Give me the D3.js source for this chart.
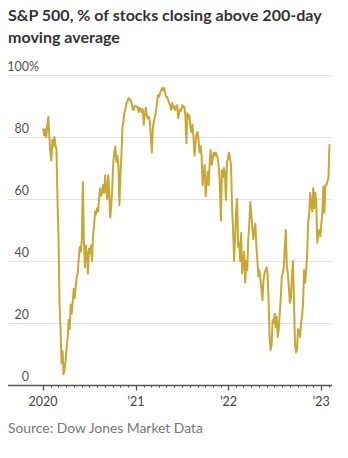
<!DOCTYPE html>
<html><head><meta charset="utf-8">
<script src="https://cdn.jsdelivr.net/npm/d3@7"></script>
<style>body{margin:0;background:#fff}svg{display:block}</style>
</head><body><svg id="c" width="348" height="458"></svg>
<script>
const titleLines = ["S&P 500, % of stocks closing above 200-day", "moving average"];
const sourceText = "Source: Dow Jones Market Data";
const yTicks = [0, 20, 40, 60, 80, 100];
const xTickDates = ["2020-01-01", "2021-01-01", "2022-01-01", "2023-01-01"];
const xTickLabels = ["2020", "\u201921", "\u201922", "\u201923"];
const xDomain = ["2019-08-16", "2023-02-13"];
const minorTickRange = ["2020-01-01", "2023-02-02"];
const series = [
["2020-01-02",82.5],["2020-01-06",80.5],["2020-01-10",82.5],["2020-01-14",80],["2020-01-18",84],["2020-01-22",86.5],["2020-01-26",80],["2020-01-30",75],
["2020-02-03",72.5],["2020-02-07",79],["2020-02-11",77],["2020-02-15",80],["2020-02-19",77.5],["2020-02-23",76],["2020-02-27",60],
["2020-03-02",48],["2020-03-06",26.5],["2020-03-10",18],["2020-03-14",7],["2020-03-18",11],["2020-03-22",3.5],["2020-03-26",5],["2020-03-30",8],
["2020-04-03",12],["2020-04-07",15],["2020-04-11",21],["2020-04-15",18],["2020-04-19",26],["2020-04-23",23],["2020-04-27",27],
["2020-05-01",31],["2020-05-05",28],["2020-05-09",32],["2020-05-13",35],["2020-05-17",36],["2020-05-21",41],["2020-05-25",44.5],["2020-05-29",43],
["2020-06-02",47],["2020-06-06",65.5],["2020-06-10",47],["2020-06-14",38],["2020-06-18",45],["2020-06-22",42],["2020-06-26",36],["2020-06-30",44],
["2020-07-04",42.5],["2020-07-08",45],["2020-07-12",40],["2020-07-16",48],["2020-07-20",51],["2020-07-24",56],["2020-07-28",55],
["2020-08-01",57],["2020-08-05",56],["2020-08-09",60],["2020-08-13",63.5],["2020-08-17",61],["2020-08-21",62],["2020-08-25",64.5],["2020-08-29",62],
["2020-09-02",67.7],["2020-09-06",63],["2020-09-10",60],["2020-09-14",67.7],["2020-09-18",62],["2020-09-22",54],["2020-09-26",58],["2020-09-30",63.5],
["2020-10-04",72],["2020-10-08",75],["2020-10-12",77],["2020-10-16",72],["2020-10-20",74],["2020-10-24",71],["2020-10-28",58],
["2020-11-01",68],["2020-11-05",74],["2020-11-09",83],["2020-11-13",85],["2020-11-17",88],["2020-11-21",89],["2020-11-25",91],["2020-11-29",91.5],
["2020-12-03",92.6],["2020-12-07",92],["2020-12-11",92],["2020-12-15",91],["2020-12-19",89],["2020-12-23",88.7],["2020-12-27",90],["2020-12-31",90],
["2021-01-04",89.7],["2021-01-08",89.7],["2021-01-12",88],["2021-01-16",89.4],["2021-01-20",89],["2021-01-24",88],["2021-01-28",89],
["2021-02-01",84],["2021-02-05",87],["2021-02-09",89.4],["2021-02-13",87],["2021-02-17",86],["2021-02-21",86.5],["2021-02-25",85],
["2021-03-01",80],["2021-03-05",75],["2021-03-09",83],["2021-03-13",85],["2021-03-17",86.5],["2021-03-21",88],["2021-03-25",91],["2021-03-29",93.5],
["2021-04-02",93],["2021-04-06",94],["2021-04-10",95],["2021-04-14",95.8],["2021-04-18",95],["2021-04-22",95.8],["2021-04-26",94.5],["2021-04-30",93],
["2021-05-04",93],["2021-05-08",92],["2021-05-12",91],["2021-05-16",90.3],["2021-05-20",88.7],["2021-05-24",91],["2021-05-28",89.4],
["2021-06-01",90],["2021-06-05",88.7],["2021-06-09",89.5],["2021-06-13",90.3],["2021-06-17",86],["2021-06-21",88],["2021-06-25",89],["2021-06-29",88.5],
["2021-07-03",90.3],["2021-07-07",89.7],["2021-07-11",89.7],["2021-07-15",87],["2021-07-19",78],["2021-07-23",87.7],["2021-07-27",86],["2021-07-31",87],
["2021-08-04",83],["2021-08-08",81.6],["2021-08-12",84],["2021-08-16",80],["2021-08-20",74],["2021-08-24",78],["2021-08-28",81],
["2021-09-01",81.6],["2021-09-05",79],["2021-09-09",75],["2021-09-13",77],["2021-09-17",74],["2021-09-21",64.5],["2021-09-25",68],["2021-09-29",71],
["2021-10-03",61],["2021-10-07",65],["2021-10-11",68.7],["2021-10-15",64.5],["2021-10-19",72],["2021-10-23",75.8],["2021-10-27",71],["2021-10-31",73],
["2021-11-04",75],["2021-11-08",74],["2021-11-12",75],["2021-11-16",74],["2021-11-20",73],["2021-11-24",70],["2021-11-28",64.5],
["2021-12-02",53],["2021-12-06",69.3],["2021-12-10",67],["2021-12-14",70],["2021-12-18",68],["2021-12-22",59.7],["2021-12-26",72],["2021-12-30",73],
["2022-01-03",75],["2022-01-07",73],["2022-01-11",71],["2022-01-15",58],["2022-01-19",50],["2022-01-23",40],["2022-01-27",47],["2022-01-31",56],
["2022-02-04",60],["2022-02-08",44.5],["2022-02-12",46],["2022-02-16",40],["2022-02-20",49],["2022-02-24",36],["2022-02-28",40],
["2022-03-04",43],["2022-03-08",33],["2022-03-12",40],["2022-03-16",37],["2022-03-20",47],["2022-03-24",52],["2022-03-28",59],
["2022-04-01",55],["2022-04-05",50.6],["2022-04-09",47],["2022-04-13",50],["2022-04-17",52],["2022-04-21",44.5],["2022-04-25",40],["2022-04-29",35],
["2022-05-03",37],["2022-05-07",34],["2022-05-11",31],["2022-05-15",27.4],["2022-05-19",34],["2022-05-23",36],["2022-05-27",37],["2022-05-31",38],
["2022-06-04",36],["2022-06-08",27.4],["2022-06-12",15.5],["2022-06-16",11.3],["2022-06-20",13],["2022-06-24",21],["2022-06-28",20],
["2022-07-02",23],["2022-07-06",18.7],["2022-07-10",22],["2022-07-14",15.5],["2022-07-18",18],["2022-07-22",23],["2022-07-26",28],["2022-07-30",35],
["2022-08-03",36],["2022-08-07",38],["2022-08-11",44.5],["2022-08-15",50],["2022-08-19",38],["2022-08-23",36],["2022-08-27",31.6],["2022-08-31",26.5],
["2022-09-04",28],["2022-09-08",35],["2022-09-12",40],["2022-09-16",28],["2022-09-20",13.5],["2022-09-24",10.5],["2022-09-28",11.3],
["2022-10-02",18],["2022-10-06",17.7],["2022-10-10",15.5],["2022-10-14",20],["2022-10-18",22],["2022-10-22",26.5],["2022-10-26",37],["2022-10-30",33],
["2022-11-03",37],["2022-11-07",42],["2022-11-11",52.6],["2022-11-15",55],["2022-11-19",62],["2022-11-23",58],["2022-11-27",56],
["2022-12-01",63.5],["2022-12-05",57],["2022-12-09",62],["2022-12-13",59],["2022-12-17",45.8],["2022-12-21",49],["2022-12-25",50],["2022-12-29",48],
["2023-01-02",52],["2023-01-06",56],["2023-01-10",64],["2023-01-14",55.5],["2023-01-18",64.5],["2023-01-22",64.5],["2023-01-26",65.5],["2023-01-30",67],
["2023-02-03",77.4]
];

const parse = d3.timeParse("%Y-%m-%d");
const data = series.map(d => ({date: parse(d[0]), value: d[1]}));

const svg = d3.select("#c");
const plotLeft = 8, plotRight = 332, plotTop = 75, plotBottom = 385;
const font = "Lato, 'Open Sans', sans-serif";

const x = d3.scaleTime().domain(xDomain.map(parse)).range([plotLeft, plotRight]);
const y = d3.scaleLinear().domain([0, 100]).range([plotBottom, plotTop]);

// Title
const t1 = svg.append("text").attr("x", 8).attr("y", 21)
  .attr("font-family", font).attr("font-weight", 700).attr("font-size", 16)
  .attr("fill", "#333").text(titleLines[0]);
const w = t1.node().getComputedTextLength();
const fs = 16 * 314 / w;
t1.attr("font-size", fs);
svg.append("text").attr("x", 8).attr("y", 43)
  .attr("font-family", font).attr("font-weight", 700).attr("font-size", fs)
  .attr("fill", "#333").text(titleLines[1]);

// Grid
svg.append("g").selectAll("line").data(yTicks.filter(d => d > 0)).join("line")
  .attr("x1", plotLeft).attr("x2", plotRight)
  .attr("y1", d => Math.round(y(d)) + 0.5).attr("y2", d => Math.round(y(d)) + 0.5)
  .attr("stroke", "#e2e2e2").attr("stroke-width", 1);

// Y labels
svg.append("g").selectAll("text").data(yTicks).join("text")
  .attr("x", 29).attr("y", d => y(d) - 4)
  .attr("text-anchor", "end")
  .attr("font-family", font).attr("font-size", 12.5).attr("fill", "#555")
  .text(d => d);
svg.append("text").attr("x", 29).attr("y", y(100) - 4)
  .attr("font-family", font).attr("font-size", 12.5).attr("fill", "#555").text("%");

// Line
const line = d3.line().x(d => x(d.date)).y(d => y(d.value)).curve(d3.curveLinear);
svg.append("path").datum(data)
  .attr("d", line).attr("fill", "none")
  .attr("stroke", "#c8a832").attr("stroke-width", 2)
  .attr("stroke-linejoin", "round").attr("stroke-linecap", "round");

// Axis
const minor = d3.timeMonth.range(parse(minorTickRange[0]), parse(minorTickRange[1]));
svg.append("g").selectAll("line").data(minor).join("line")
  .attr("x1", d => Math.round(x(d)) + 0.5).attr("x2", d => Math.round(x(d)) + 0.5)
  .attr("y1", plotBottom).attr("y2", plotBottom + 2.5)
  .attr("stroke", "#444").attr("stroke-width", 1);
svg.append("g").selectAll("line").data(xTickDates.map(parse)).join("line")
  .attr("x1", d => Math.round(x(d)) + 0.5).attr("x2", d => Math.round(x(d)) + 0.5)
  .attr("y1", plotBottom).attr("y2", plotBottom + 5.5)
  .attr("stroke", "#444").attr("stroke-width", 1.2);
svg.append("line").attr("x1", plotLeft).attr("x2", plotRight)
  .attr("y1", plotBottom + 0.5).attr("y2", plotBottom + 0.5)
  .attr("stroke", "#555").attr("stroke-width", 1.5);

svg.append("g").selectAll("text").data(xTickDates).join("text")
  .attr("x", d => x(parse(d))).attr("y", 406)
  .attr("text-anchor", "middle")
  .attr("font-family", font).attr("font-size", 12.5).attr("fill", "#444")
  .text((d, i) => xTickLabels[i]);

// Source
const src = svg.append("text").attr("x", 8).attr("y", 433)
  .attr("font-family", font).attr("font-size", 13.5).attr("fill", "#777")
  .text(sourceText);
const sw = src.node().getComputedTextLength();
src.attr("font-size", 13.5 * 195 / sw);
</script></body></html>
